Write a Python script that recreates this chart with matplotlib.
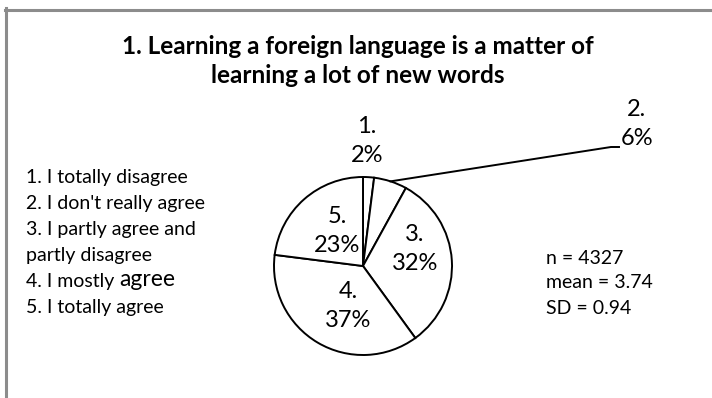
import matplotlib
matplotlib.use('Agg')
import matplotlib.pyplot as plt
from matplotlib.lines import Line2D
import numpy as np

plt.rcParams['font.family'] = ['Lato', 'DejaVu Sans']

# данные опроса
categories = ['1.', '2.', '3.', '4.', '5.']
percents = [2, 6, 32, 37, 23]
answers = ['1. I totally disagree', "2. I don't really agree",
           '3. I partly agree and', 'partly disagree',
           '4. I mostly ', '5. I totally agree']
stats = ['n = 4327', 'mean = 3.74', 'SD = 0.94']
title = '1. Learning a foreign language is a matter of\nlearning a lot of new words'

W, H = 712, 398
fig = plt.figure(figsize=(W / 100, H / 100), dpi=100)
ax = fig.add_axes([0, 0, 1, 1])

# круговая диаграмма, координаты в пикселях (y снизу вверх)
cx, cy, r = 363, H - 266, 89
wedges, _ = ax.pie(percents, center=(cx, cy), radius=r, startangle=90,
                   counterclock=False, colors=['white'] * len(percents),
                   wedgeprops=dict(edgecolor='black', linewidth=1.4))
ax.set_xlim(0, W)
ax.set_ylim(0, H)
ax.set_aspect('auto')
ax.axis('off')

# подписи долей (центр подписи в пикселях от верхнего левого угла)
label_pos = [(367, 141), (637, 124), (415, 249), (348, 306), (337, 231)]
for cat, p, (lx, ly) in zip(categories, percents, label_pos):
    ax.text(lx, H - ly, f'{cat}\n{p}%', ha='center', va='center',
            fontsize=17, linespacing=1.45)

# выноска для второй доли
w = wedges[1]
mid = np.deg2rad((w.theta1 + w.theta2) / 2)
x0, y0 = cx + r * np.cos(mid), cy + r * np.sin(mid)
ax.plot([x0, 611, 619], [y0, H - 147, H - 147], color='black', lw=1.4)

# заголовок
ax.text(358, H - 61, title, ha='center', va='center', fontsize=17.5,
        fontweight='bold', linespacing=1.3)

# варианты ответов слева
for i, s in enumerate(answers):
    t = ax.text(26, H - (177 + 26.2 * i), s, ha='left', va='center', fontsize=14)
    if s.startswith('4.'):
        ax.annotate('agree', xy=(1, 0), xycoords=t, ha='left', va='bottom',
                    fontsize=16.5)

# статистика справа
for i, s in enumerate(stats):
    ax.text(546, H - (258 + 25 * i), s, ha='left', va='center', fontsize=14)

# рамка сверху и слева
fig.add_artist(Line2D([5 / W, 1], [1 - 9.5 / H, 1 - 9.5 / H],
                      transform=fig.transFigure, color='#8c8c8c', lw=2.2))
fig.add_artist(Line2D([6 / W, 6 / W], [0, 1 - 8 / H],
                      transform=fig.transFigure, color='#8c8c8c', lw=2.2))

fig.savefig('out.png', dpi=100, facecolor='white')
